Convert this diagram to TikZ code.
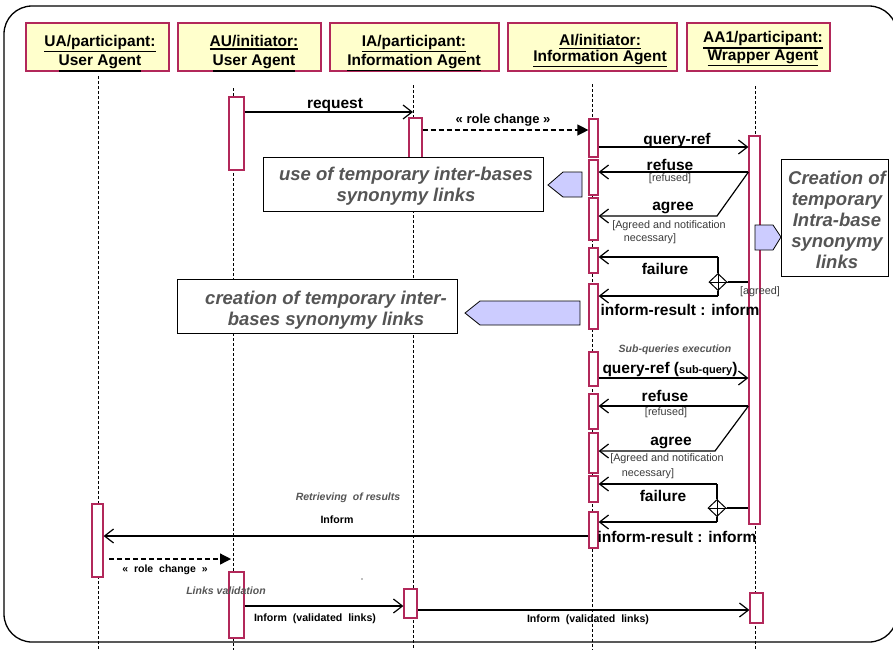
\documentclass[tikz,border=0pt]{standalone}
\usepackage{fontspec}
\setmainfont{Liberation Sans}
\usetikzlibrary{arrows.meta,shapes.geometric}

\definecolor{crim}{HTML}{B2285A}
\definecolor{hdrfill}{HTML}{FFFFCC}
\definecolor{lav}{HTML}{CCCCFF}
\definecolor{notegray}{HTML}{555555}
\definecolor{condgray}{HTML}{3A3A3A}

\newcommand\hdrfont{\fontsize{15.5}{19}\selectfont\bfseries}
\newcommand\msgfont{\fontsize{15.5}{18}\selectfont\bfseries}
\newcommand\condfont{\fontsize{10.8}{13}\selectfont\color{condgray}}
\newcommand\capfont{\fontsize{10.5}{13}\selectfont\bfseries\itshape\color{notegray}}
\newcommand\notefont{\fontsize{18.5}{21}\selectfont\bfseries\itshape\color{notegray}}
\newcommand\smallbold{\fontsize{10.6}{13}\selectfont\bfseries}
% heavier underline for the lifeline heads
\newcommand\hul[1]{\leavevmode\vtop{\hbox{#1}\kern1.3pt\hrule height 1.3pt}}

% activation bar: [width]{name}{x}{top}{bottom}
\newcommand\actbar[5][11]{\node[actbar, minimum width=#1pt, minimum height={(#5-#4)*1pt}] (#2) at (#3,{(#4+#5)/2}) {};}

\tikzset{
  frame/.style={draw, line width=1.3pt, rounded corners=28pt},
  hdrbox/.style={draw=crim, fill=hdrfill, line width=1.3pt, inner sep=0pt},
  hdrtext/.style={inner sep=0pt, align=center, font=\hdrfont},
  life/.style={line width=0.9pt, dash pattern=on 3pt off 2pt},
  actbar/.style={draw=crim, fill=white, line width=1.2pt, inner sep=0pt},
  msg/.style={line width=1.2pt, -{Straight Barb[length=9pt,width=14pt]}},
  plainline/.style={line width=1.2pt},
  rolechg/.style={line width=1.3pt, dash pattern=on 5pt off 3pt, -{Triangle[length=11pt,width=11pt]}},
  notebox/.style={draw, line width=1pt, fill=white, inner sep=0pt},
  notetext/.style={inner sep=0pt, align=center, font=\notefont},
  pent/.style={draw, line width=0.8pt, fill=lav},
  decision/.style={diamond, draw, fill=white, line width=1pt, minimum width=18pt, minimum height=17pt, inner sep=0pt},
  lbl/.style={inner sep=0pt, font=\msgfont},
  cond/.style={inner sep=0pt, font=\condfont},
  caption/.style={inner sep=0pt, font=\capfont},
  small/.style={inner sep=0pt, font=\smallbold},
}

\begin{document}
\begin{tikzpicture}[x=1pt,y=-1pt]
\useasboundingbox (0,0) rectangle (893,649);
\clip (0,0) rectangle (893,649);

% outer frame
\draw[frame] (4,6) rectangle (897,642);

% lifeline heads
\node[hdrbox, minimum width=143pt, minimum height=48pt] (hUA) at (97.5,47) {};
\node[hdrbox, minimum width=143pt, minimum height=48pt] (hAU) at (249.5,47) {};
\node[hdrbox, minimum width=169pt, minimum height=48pt] (hIA) at (414.5,47) {};
\node[hdrbox, minimum width=169pt, minimum height=48pt] (hAI) at (592.5,47) {};
\node[hdrbox, minimum width=143pt, minimum height=48pt] (hAA) at (758.5,47) {};

\node[hdrtext] (tUA) at (100,53.5) {\hul{UA/participant:}\\\hul{User Agent}};
\node[hdrtext] (tAU) at (254,53.5) {\hul{AU/initiator:}\\\hul{User Agent}};
\node[hdrtext] (tIA) at (414,53) {\hul{IA/participant:}\\\hul{Information Agent}};
\node[hdrtext, font=\fontsize{15.5}{15.5}\selectfont\bfseries] (tAI) at (600,51) {\hul{AI/initiator:}\\\hul{Information Agent}};
\node[hdrtext, font=\fontsize{15.5}{15.5}\selectfont\bfseries] (tAA) at (763,49) {\hul{AA1/participant:}\\\hul{Wrapper Agent}};

% lifelines
\coordinate (llUA) at (98,76);
\coordinate (llAU) at (233,88);
\coordinate (llIA) at (413,85);
\coordinate (llAI) at (592,84);
\coordinate (llAA) at (755,86);
\foreach \c in {llUA,llAU,llIA,llAI,llAA}
  \draw[life] (\c) -- (\c |- 0,652);

% activation bars
\actbar[15]{au1}{236.5}{97}{170}
\actbar[13]{ia1}{415.5}{118}{175}
\actbar[9]{ai1}{593.5}{119}{157}
\actbar[9]{ai2}{593.5}{160}{195}
\actbar[9]{ai3}{593.5}{198}{240}
\actbar[9]{ai4}{593.5}{248}{273}
\actbar[9]{ai5}{593.5}{284}{329}
\actbar[9]{ai6}{593.5}{352}{386}
\actbar[9]{ai7}{593.5}{394}{429}
\actbar[9]{ai8}{593.5}{433}{473}
\actbar[9]{ai9}{593.5}{476}{502}
\actbar[9]{ai10}{593.5}{512}{548}
\actbar[11]{aa}{754.5}{136}{524}
\actbar[11]{ua}{97.5}{504}{577}
\actbar[15]{au2}{236.5}{572}{638}
\actbar[13]{ia2}{410.5}{589}{618}
\actbar[13]{aa2}{756.5}{593}{623}

% note boxes with their pointers
\node[notebox, minimum width=280pt, minimum height=54pt] (n1) at (403,184) {};
\node[notetext] (n1t) at (406,186) {use of temporary inter-bases\\synonymy links};
\draw[pent] (548,185) -- (563,172) -- (582,172) -- (582,197) -- (563,197) -- cycle;

\node[notebox, minimum width=280pt, minimum height=54pt] (n2) at (317,306) {};
\node[notetext] (n2t) at (326,310) {creation of temporary inter-\\bases synonymy links};
\draw[pent] (465,313) -- (480,301) -- (580,301) -- (580,325) -- (480,325) -- cycle;

\node[notebox, minimum width=107pt, minimum height=117pt] (n3) at (834.5,217.5) {};
\node[notetext] (n3t) at (837,220) {Creation of\\temporary\\Intra-base\\synonymy\\links};
\draw[pent] (755,225) -- (773,225) -- (781,237) -- (773,250) -- (755,250) -- cycle;

% request and role change
\draw[msg] (au1.east |- 0,112) -- (llIA |- 0,112);
\node[lbl] (lreq) at (335,105) {request};
\draw[rolechg] (ia1.east |- 0,130) -- (ai1.west |- 0,130);
\node[lbl, font=\fontsize{13}{15}\selectfont\bfseries] (lrc1) at (503,120) {« role change »};

% first query round
\draw[msg] (ai1.east |- 0,147) -- (aa.west |- 0,147);
\node[lbl] (lq1) at (677,140) {query-ref};
\draw[msg] (aa.west |- 0,172) -- (ai2.east |- 0,172);
\node[lbl] (lr1) at (670,165) {refuse};
\node[cond] (cr1) at (670,179) {[refused]};
\coordinate (kA) at (717,216);
\draw[msg] (aa.west |- 0,172) -- (kA) -- (ai3.east |- kA);
\node[lbl] (la1) at (673,208) {agree};
\node[cond] (ca1) at (669,226) {[Agreed and notification};
\node[cond] (ca1b) at (650,239) {necessary]};
\coordinate (fA) at (718,257);
\coordinate (fB) at (718,296);
\node[decision] (dA) at (718,282) {};
\draw[line width=0.8pt] (dA.north) -- (dA.south) (dA.west) -- (dA.east);
\draw[msg] (fA) -- (ai4.east |- fA);
\draw[plainline] (fA) -- (dA.north) (dA.south) -- (fB);
\draw[msg] (fB) -- (ai5.east |- fB);
\draw[plainline] (dA.east) -- (aa.west |- dA);
\node[lbl] (lf1) at (665,269) {failure};
\node[cond] (cg1) at (760,292) {[agreed]};
\node[lbl] (li1) at (680,310) {inform-result : inform};

% sub-queries round
\node[caption] (csub) at (675,350) {Sub-queries execution};
\draw[msg] (ai6.east |- 0,378) -- (aa.west |- 0,378);
\node[lbl] (lq2) at (670,369) {query-ref (\fontsize{11}{13}\selectfont sub-query\msgfont)};
\draw[msg] (aa.west |- 0,406) -- (ai7.east |- 0,406);
\node[lbl] (lr2) at (665,396) {refuse};
\node[cond] (cr2) at (666,413) {[refused]};
\coordinate (kB) at (715,451);
\draw[msg] (aa.west |- 0,406) -- (kB) -- (ai8.east |- kB);
\node[lbl] (la2) at (671,443) {agree};
\node[cond] (ca2) at (667,459) {[Agreed and notification};
\node[cond] (ca2b) at (648,474) {necessary]};
\coordinate (fC) at (717,484);
\coordinate (fD) at (717,522);
\node[decision] (dB) at (717,508) {};
\draw[line width=0.8pt] (dB.north) -- (dB.south) (dB.west) -- (dB.east);
\draw[msg] (fC) -- (ai9.east |- fC);
\draw[plainline] (fC) -- (dB.north) (dB.south) -- (fD);
\draw[msg] (fD) -- (ai10.east |- fD);
\draw[plainline] (dB.east) -- (aa.west |- dB);
\node[lbl] (lf2) at (663,496) {failure};
\node[lbl] (li2) at (677,537) {inform-result : inform};

% results back to the user agent
\node[caption] (cret) at (348,498) {Retrieving \ of results};
\draw[msg] (ai10.west |- 0,536) -- (ua.east |- 0,536);
\node[small] (linf) at (337,520) {Inform};
\coordinate (rcB) at (109,559);
\draw[rolechg, shorten >=2pt] (rcB) -- (llAU |- rcB);
\node[small, font=\fontsize{10.5}{13}\selectfont\bfseries] (lrc2) at (165,570) {« \ role \ change \ »};

% links validation
\node[caption] (cval) at (226,591) {Links validation};
\fill[gray] (362,579) circle (0.8pt);
\draw[msg] (au2.east |- 0,606) -- (ia2.west |- 0,606);
\node[small] (lv1) at (315,619) {Inform \ (validated \ links)};
\draw[msg] (ia2.east |- 0,610) -- (aa2.west |- 0,610);
\node[small] (lv2) at (588,620) {Inform \ (validated \ links)};
\end{tikzpicture}
\end{document}
